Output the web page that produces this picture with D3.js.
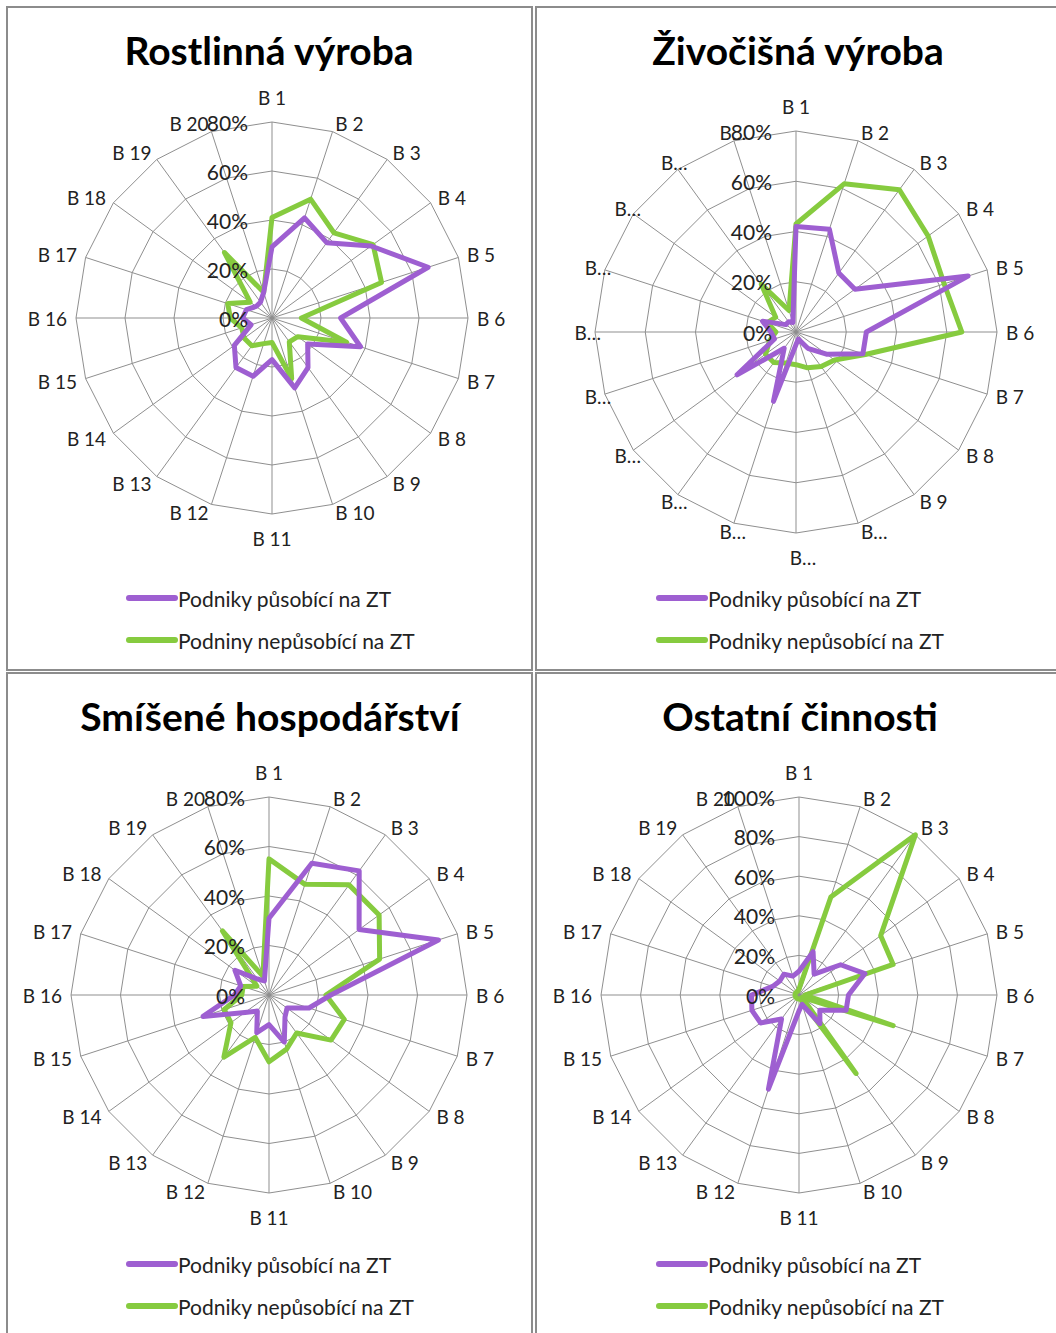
<!DOCTYPE html>
<html>
<head>
<meta charset="utf-8">
<script src="https://cdn.jsdelivr.net/npm/d3@7"></script>
<style>
  body { margin: 0; background: #fff; }
  svg { display: block; font-family: Lato, "Open Sans", sans-serif; }
</style>
</head>
<body>
<svg width="1056" height="1333"></svg>
<script>
// kategorie (osy)
var categories = ["B 1", "B 2", "B 3", "B 4", "B 5", "B 6", "B 7", "B 8", "B 9", "B 10",
                  "B 11", "B 12", "B 13", "B 14", "B 15", "B 16", "B 17", "B 18", "B 19", "B 20"];
// v druhem grafu jsou popisky zkracene
var categoriesShort = ["B 1", "B 2", "B 3", "B 4", "B 5", "B 6", "B 7", "B 8", "B 9", "B…",
                       "B…", "B…", "B…", "B…", "B…", "B…", "B…", "B…", "B…", "B…"];

var ticks80 = [0, 0.2, 0.4, 0.6, 0.8];
var ticks100 = [0, 0.2, 0.4, 0.6, 0.8, 1.0];

// Rostlinna vyroba
var rostlinnaZT = [0.29, 0.43, 0.38, 0.50, 0.67, 0.28, 0.38, 0.18, 0.25, 0.30,
                   0.17, 0.25, 0.25, 0.19, 0.09, 0.12, 0.11, 0.08, 0.08, 0.11];
var rostlinnaMimo = [0.41, 0.51, 0.43, 0.51, 0.47, 0.12, 0.32, 0.13, 0.12, 0.26,
                     0.10, 0.11, 0.14, 0.14, 0.13, 0.17, 0.19, 0.11, 0.33, 0.11];

// Zivocisna vyroba
var zivocisnaZT = [0.42, 0.43, 0.29, 0.29, 0.72, 0.28, 0.28, 0.15, 0.08, 0.03,
                   0.05, 0.29, 0.08, 0.29, 0.09, 0.10, 0.14, 0.05, 0.05, 0.04];
var zivocisnaMimo = [0.43, 0.62, 0.70, 0.65, 0.62, 0.66, 0.29, 0.19, 0.17, 0.15,
                     0.13, 0.13, 0.15, 0.15, 0.11, 0.08, 0.12, 0.10, 0.235, 0.09];

// Smisene hospodarstvi
var smiseneZT = [0.31, 0.56, 0.62, 0.45, 0.72, 0.25, 0.17, 0.09, 0.11, 0.20,
                 0.12, 0.16, 0.08, 0.12, 0.28, 0.14, 0.12, 0.17, 0.08, 0.06];
var smiseneMimo = [0.55, 0.47, 0.55, 0.55, 0.47, 0.23, 0.32, 0.31, 0.19, 0.23,
                   0.27, 0.18, 0.31, 0.19, 0.19, 0.11, 0.11, 0.06, 0.32, 0.08];

// Ostatni cinnosti
var ostatniZT = [0.12, 0.23, 0.13, 0.26, 0.35, 0.25, 0.25, 0.13, 0.18, 0.05,
                 0.08, 0.50, 0.15, 0.24, 0.25, 0.24, 0.14, 0.12, 0.13, 0.10];
var ostatniMimo = [0.03, 0.52, 1.00, 0.51, 0.50, 0.03, 0.50, 0.02, 0.49, 0.02,
                   0.02, 0.02, 0.02, 0.02, 0.02, 0.02, 0.02, 0.02, 0.02, 0.02];

var legendZT = "Podniky působící na ZT";

var purple = "#9e5fd1",
    green = "#86cb3f";

var charts = [
  { title: "Rostlinná výroba", cats: categories, ticks: ticks80, a: rostlinnaZT, b: rostlinnaMimo,
    legendB: "Podniny nepůsobící na ZT", box: [7, 7, 525, 663], cx: 272, cy: 318, r: 196, titleX: 269, titleY: 65, legY: 598 },
  { title: "Živočišná výroba", cats: categoriesShort, ticks: ticks80, a: zivocisnaZT, b: zivocisnaMimo,
    legendB: "Podniky nepůsobící na ZT", box: [536, 7, 530, 663], cx: 796, cy: 332, r: 201, titleX: 798, titleY: 65, legY: 598 },
  { title: "Smíšené hospodářství", cats: categories, ticks: ticks80, a: smiseneZT, b: smiseneMimo,
    legendB: "Podniky nepůsobící na ZT", box: [7, 673, 525, 670], cx: 269, cy: 995, r: 198, titleX: 270, titleY: 731, legY: 1264 },
  { title: "Ostatní činnosti", cats: categories, ticks: ticks100, a: ostatniZT, b: ostatniMimo,
    legendB: "Podniky nepůsobící na ZT", box: [536, 673, 530, 670], cx: 799, cy: 995, r: 198, titleX: 800, titleY: 731, legY: 1264 }
];

var svg = d3.select("svg");

charts.forEach(function (c) {
  var g = svg.append("g");

  g.append("rect")
    .attr("x", c.box[0]).attr("y", c.box[1])
    .attr("width", c.box[2]).attr("height", c.box[3])
    .attr("fill", "#fff")
    .attr("stroke", "#8c8c8c")
    .attr("stroke-width", 2);

  g.append("text")
    .attr("x", c.titleX)
    .attr("y", c.titleY)
    .attr("text-anchor", "middle")
    .attr("font-size", 39)
    .attr("font-weight", "bold")
    .attr("fill", "#000")
    .text(c.title);

  var maxV = c.ticks[c.ticks.length - 1];
  var rScale = d3.scaleLinear().domain([0, maxV]).range([0, c.r]);
  var aScale = d3.scaleLinear().domain([0, c.cats.length]).range([0, 2 * Math.PI]);

  var plot = g.append("g").attr("transform", "translate(" + c.cx + "," + c.cy + ")");

  // mrizka - mnohouhelniky
  var ring = d3.lineRadial()
    .angle(function (d, i) { return aScale(i); })
    .radius(function (d) { return rScale(d); })
    .curve(d3.curveLinearClosed);

  plot.selectAll(".ring")
    .data(c.ticks.slice(1))
    .enter().append("path")
    .attr("d", function (t) { return ring(c.cats.map(function () { return t; })); })
    .attr("fill", "none")
    .attr("stroke", "#8f8f8f")
    .attr("stroke-width", 1);

  plot.selectAll(".spoke")
    .data(c.cats)
    .enter().append("line")
    .attr("x1", 0).attr("y1", 0)
    .attr("x2", function (d, i) { return rScale(maxV) * Math.sin(aScale(i)); })
    .attr("y2", function (d, i) { return -rScale(maxV) * Math.cos(aScale(i)); })
    .attr("stroke", "#8f8f8f")
    .attr("stroke-width", 1);

  // popisky os - jako v Excelu, roh textu u konce paprsku
  plot.selectAll(".cat")
    .data(c.cats)
    .enter().append("text")
    .attr("font-size", 19)
    .attr("fill", "#222")
    .attr("dominant-baseline", "central")
    .text(function (d) { return d; })
    .each(function (d, i) {
      var a = aScale(i), s = Math.sin(a), co = Math.cos(a);
      var ex = rScale(maxV) * s, ey = -rScale(maxV) * co;
      // zkraceny popisek zustava na miste puvodniho delsiho textu
      var shift = d === "B…" ? (Math.abs(s) < 0.01 ? 7 : (s < 0 ? 15 : 0)) : 0;
      var t = d3.select(this);
      if (Math.abs(s) < 0.01) {
        t.attr("text-anchor", "middle")
          .attr("x", ex + shift)
          .attr("y", ey - (co > 0 ? 25 : -24));
      } else {
        t.attr("text-anchor", s > 0 ? "start" : "end")
          .attr("x", ex + 9 * s + shift)
          .attr("y", ey - 9 * co);
      }
    });

  // serie
  var line = d3.lineRadial()
    .angle(function (d, i) { return aScale(i); })
    .radius(function (d) { return rScale(d); })
    .curve(d3.curveLinearClosed);

  plot.append("path")
    .attr("d", line(c.b))
    .attr("fill", "none")
    .attr("stroke", green)
    .attr("stroke-width", 5)
    .attr("stroke-linejoin", "round");

  plot.append("path")
    .attr("d", line(c.a))
    .attr("fill", "none")
    .attr("stroke", purple)
    .attr("stroke-width", 5)
    .attr("stroke-linejoin", "round");

  // popisky hodnot
  plot.selectAll(".tick")
    .data(c.ticks)
    .enter().append("text")
    .attr("x", -24)
    .attr("y", function (t) { return -rScale(t); })
    .attr("text-anchor", "end")
    .attr("dominant-baseline", "central")
    .attr("font-size", 21)
    .attr("fill", "#222")
    .text(d3.format(".0%"));

  // legenda
  var lx = c.box[0] > 500 ? 657 : 127;
  var leg = g.selectAll(".leg")
    .data([[legendZT, purple], [c.legendB, green]])
    .enter().append("g")
    .attr("transform", function (d, i) { return "translate(" + lx + "," + (c.legY + i * 42) + ")"; });
  leg.append("line")
    .attr("x1", 2).attr("x2", 48)
    .attr("stroke", function (d) { return d[1]; })
    .attr("stroke-width", 6)
    .attr("stroke-linecap", "round");
  leg.append("text")
    .attr("x", 51)
    .attr("dominant-baseline", "central")
    .attr("font-size", 21)
    .attr("fill", "#222")
    .text(function (d) { return d[0]; });
});
</script>
</body>
</html>
